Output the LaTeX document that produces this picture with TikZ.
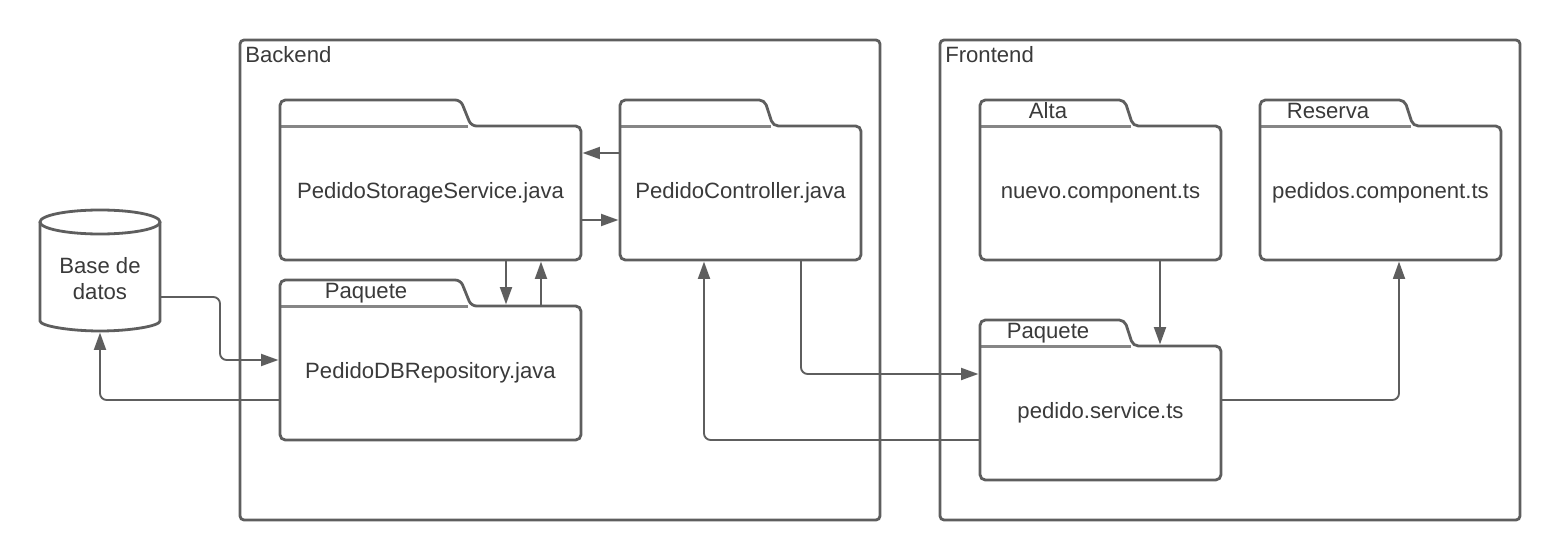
\documentclass[tikz,border=0pt]{standalone}
\usepackage{fontspec}
\setmainfont{Liberation Sans}
\usetikzlibrary{arrows.meta,calc}
\definecolor{ln}{HTML}{5E5E5E}
\definecolor{tx}{HTML}{3A3A3A}
\tikzset{
 x=0.75pt,y=-0.75pt,
 every node/.style={text=tx,font=\fontsize{16.6pt}{20pt}\selectfont},
 container/.style={draw=ln,line width=2.1pt,rounded corners=3pt},
 foldline/.style={draw=ln,line width=2.1pt},
 conn/.style={draw=ln,line width=1.4pt,rounded corners=5pt,shorten >=1pt,-{Triangle[length=13pt,width=9pt]}},
}
% #1 name, #2 left, #3 top of tab, #4 right, #5 top of body, #6 bottom, #7 text, #8 tab text, #9 tab text x
\newcommand{\folder}[9]{%
 \draw[foldline,rounded corners=4pt] (#2,{#5+20}) -- (#2,#3) -- ({#2+0.6*(#4-#2)},#3) -- ({#2+0.635*(#4-#2)},#5) -- (#4,#5) -- (#4,#6) -- (#2,#6) -- (#2,{#5+20});
 \fill[ln,opacity=0.75] (#2,{#5-1.3}) rectangle ({#2+0.625*(#4-#2)},{#5+2.2});
 \node[minimum width={(#4-#2)*0.75pt},minimum height={(#6-#5)*0.75pt},inner sep=0pt] (#1) at ({(#2+#4)/2},{(#5+#6)/2}) {};
 \node[anchor=base,inner sep=0pt] (#1lab) at ({(#2+#4)/2},{#5+72}) {#7};
 \node[anchor=base,inner sep=0pt] (#1tab) at (#9,{#3+18}) {#8};
}
\begin{document}
\begin{tikzpicture}
\useasboundingbox (0,0) rectangle (1560,560);
\fill[white] (0,0) rectangle (1560,560);
\draw[container] (240,40) rectangle (880,520);
\draw[container] (940,40) rectangle (1520,520);
\node[anchor=base west,inner sep=0pt] (bk) at (245,62.5) {Backend};
\node[anchor=base west,inner sep=0pt] (fr) at (945,62.5) {Frontend};

\folder{svc}{280}{100}{581}{126}{260}{PedidoStorageService.java}{}{370}
\folder{ctrl}{620}{100}{861}{126}{260}{PedidoController.java}{}{700}
\folder{repo}{280}{280}{581}{306}{440}{PedidoDBRepository.java}{Paquete}{366}
\folder{alta}{980}{100}{1221}{126}{260}{nuevo.component.ts}{Alta}{1048}
\folder{res}{1260}{100}{1501}{126}{260}{pedidos.component.ts}{Reserva}{1328}
\folder{psvc}{980}{320}{1221}{346}{480}{pedido.service.ts}{Paquete}{1048}

% database
\draw[foldline] (40,222) -- (40,321) .. controls (40,326) and (70,331) .. (100,331) .. controls (130,331) and (160,326) .. (160,321) -- (160,222);
\draw[foldline] (100,222) ellipse [x radius=60,y radius=12];
\node[inner sep=0pt,minimum width=90pt,minimum height=90.75pt] (db) at (100,270.5) {};
\node[align=center,inner sep=0pt] (dblab) at (100,278.5) {Base de\\datos};

% connectors
\draw[conn] (ctrl.west |- 0,153) -- (svc.east |- 0,153);
\draw[conn] (svc.east |- 0,220) -- (ctrl.west |- 0,220);
\draw[conn] (506,0 |- svc.south) -- (506,0 |- repo.north);
\draw[conn] (541,0 |- repo.north) -- (541,0 |- svc.south);
\draw[conn] (db.east |- 0,297) -- (220,297) -- (220,360) -- (repo.west |- 0,360);
\draw[conn] (repo.west |- 0,400) -- (100,400) -- (db.south);
\draw[conn] (801,0 |- ctrl.south) -- (801,374) -- (psvc.west |- 0,374);
\draw[conn] (psvc.west |- 0,440) -- (704,440) -- (704,0 |- ctrl.south);
\draw[conn] (1160,0 |- alta.south) -- (1160,0 |- psvc.north);
\draw[conn] (psvc.east |- 0,400) -- (1399,400) -- (1399,0 |- res.south);
\end{tikzpicture}
\end{document}
